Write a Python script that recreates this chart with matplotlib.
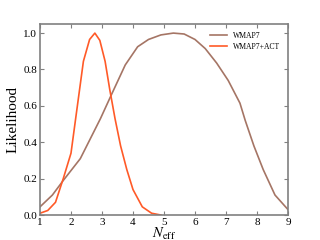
import matplotlib
matplotlib.use("Agg")
import matplotlib.pyplot as plt

plt.rcParams['font.family'] = ['Liberation Serif', 'DejaVu Serif']
plt.rcParams['mathtext.fontset'] = 'stix'

wmap7_x = [1.0, 1.4, 1.75, 2.3, 2.95, 3.3, 3.75, 4.15, 4.5, 4.9, 5.3, 5.65, 6.0, 6.33, 6.7, 7.07, 7.45, 7.62, 7.9, 8.2, 8.58, 9.0]
wmap7_y = [0.045, 0.11, 0.19, 0.31, 0.53, 0.66, 0.825, 0.925, 0.965, 0.99, 1.0, 0.995, 0.965, 0.915, 0.835, 0.74, 0.615, 0.52, 0.38, 0.25, 0.11, 0.03]

act_x = [1.0, 1.25, 1.5, 1.75, 2.0, 2.15, 2.4, 2.6, 2.77, 2.93, 3.1, 3.25, 3.42, 3.6, 3.8, 4.0, 4.3, 4.6, 4.9]
act_y = [0.01, 0.025, 0.07, 0.2, 0.34, 0.53, 0.845, 0.965, 1.0, 0.96, 0.845, 0.69, 0.53, 0.38, 0.25, 0.14, 0.045, 0.01, 0.0]

fig = plt.figure(figsize=(3.2, 2.4), dpi=100)
ax = fig.add_axes([0.125, 0.104, 0.775, 0.796])
ax.plot(wmap7_x, wmap7_y, color='#a57565', lw=1.2, label='WMAP7')
ax.plot(act_x, act_y, color='#ff5a28', lw=1.2, label='WMAP7+ACT')
ax.set_xlim(1, 9)
ax.set_ylim(0, 1.05)
ax.set_xticks(range(1, 10))
ax.set_yticks([0.0, 0.2, 0.4, 0.6, 0.8, 1.0])
ax.tick_params(direction='in', top=True, right=True, labelsize=8, length=3, color='#808080', pad=2)
for s in ax.spines.values():
    s.set_color('#808080')
    s.set_linewidth(1.2)
ax.set_xlabel(r'$N_{\rm eff}$', fontsize=10.5, labelpad=-1)
ax.set_ylabel('Likelihood', fontsize=11, labelpad=3)
ax.legend(loc='upper right', frameon=False, fontsize=5.5, handlelength=2.2,
          labelspacing=0.4, borderaxespad=0.6)
fig.savefig('out.png', dpi=100)
